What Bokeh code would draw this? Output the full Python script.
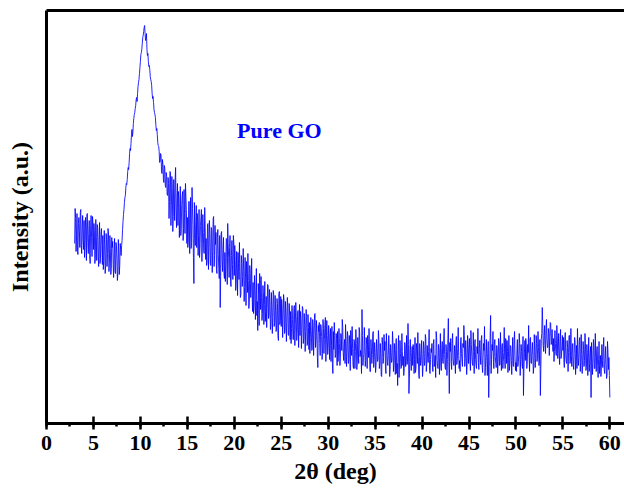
from bokeh.plotting import figure
from bokeh.models import Range1d, SingleIntervalTicker, FixedTicker, LinearAxis, Label
from bokeh.embed import file_html
from bokeh.resources import INLINE

# XRD scan of graphene oxide, recorded on a 0.05 deg grid.
# intensity_a: counts at 3.00, 3.10, ... 60.00 deg (a.u.)
# intensity_b: counts at 3.05, 3.15, ... 59.95 deg (a.u.)
two_theta_start = 3.0
two_theta_step = 0.1
intensity_a = [
    180, 205, 188, 172, 200, 193, 211, 178, 196, 184,   # 3
    203, 176, 195, 209, 181, 190, 168, 198, 186, 207,   # 4
    174, 193, 165, 186, 199, 171, 183, 160, 190, 178,   # 5
    188, 163, 179, 158, 184, 170, 192, 161, 175, 155,   # 6
    176, 159, 170, 152, 181, 164, 150, 171, 158, 174,   # 7
    178, 194, 209, 221, 228, 240, 244, 256, 261, 275,   # 8
    280, 294, 291, 305, 311, 318, 326, 330, 341, 350,   # 9
    362, 371, 380, 388, 396, 390, 385, 374, 370, 357,   # 10
    354, 344, 338, 325, 321, 311, 306, 293, 289, 278,   # 11
    272, 262, 268, 250, 259, 241, 255, 236, 247, 228,   # 12
    240, 222, 251, 218, 235, 207, 230, 244, 213, 226,   # 13
    198, 225, 204, 188, 219, 232, 195, 210, 240, 214,   # 14
    206, 181, 222, 194, 175, 236, 199, 140, 185, 201,   # 15
    176, 203, 188, 166, 198, 214, 180, 191, 170, 196,   # 16
    185, 161, 200, 176, 189, 158, 193, 172, 207, 168,   # 17
    179, 154, 186, 169, 145, 116, 190, 163, 174, 150,   # 18
    171, 158, 184, 200, 166, 176, 142, 168, 159, 188,   # 19
    148, 163, 139, 156, 171, 144, 152, 129, 160, 147,   # 20
    153, 136, 146, 162, 131, 143, 121, 150, 138, 128,   # 21
    141, 117, 134, 125, 108, 93, 129, 150, 114, 126,    # 22
    110, 131, 119, 102, 127, 115, 138, 108, 121, 99,    # 23
    118, 106, 129, 101, 113, 94, 120, 83, 132, 103,     # 24
    97, 114, 105, 123, 92, 110, 101, 117, 88, 108,      # 25
    112, 95, 104, 84, 118, 99, 107, 90, 113, 96,        # 26
    88, 103, 94, 115, 85, 99, 92, 107, 79, 96,          # 27
    101, 86, 93, 74, 98, 89, 110, 83, 91, 56,           # 28
    92, 80, 99, 87, 70, 95, 84, 106, 78, 88,            # 29
    76, 90, 83, 62, 97, 50, 74, 88, 69, 85,             # 30
    92, 73, 80, 66, 85, 104, 71, 78, 60, 83,            # 31
    70, 87, 64, 79, 93, 68, 75, 55, 82, 72,             # 32
    80, 61, 74, 96, 67, 71, 114, 58, 69, 77,            # 33
    63, 79, 88, 66, 73, 52, 76, 69, 92, 64,             # 34
    71, 58, 75, 64, 84, 60, 70, 47, 78, 66,             # 35
    73, 57, 90, 62, 68, 76, 54, 71, 63, 81,             # 36
    59, 68, 74, 50, 38, 88, 61, 70, 56, 72,             # 37
    67, 55, 78, 63, 59, 100, 30, 74, 62, 71,            # 38
    58, 73, 64, 51, 80, 60, 67, 45, 70, 63,             # 39
    69, 56, 76, 61, 85, 59, 66, 72, 53, 64,             # 40
    71, 60, 79, 57, 68, 92, 63, 55, 74, 66,             # 41
    58, 75, 62, 81, 69, 54, 72, 64, 105, 30,            # 42
    72, 61, 80, 66, 58, 70, 78, 59, 75, 68,             # 43
    63, 82, 70, 57, 76, 88, 65, 71, 60, 79,             # 44
    74, 62, 93, 67, 58, 72, 80, 64, 55, 70,             # 45
    61, 75, 68, 84, 57, 66, 73, 48, 70, 63,             # 46
    70, 26, 58, 108, 64, 73, 61, 79, 67, 56,            # 47
    74, 62, 81, 59, 69, 77, 55, 71, 64, 85,             # 48
    60, 72, 66, 53, 78, 63, 70, 58, 83, 67,             # 49
    61, 74, 57, 69, 80, 64, 72, 55, 28, 70,             # 50
    63, 78, 59, 71, 66, 84, 61, 73, 68, 57,             # 51
    72, 65, 80, 69, 76, 62, 28, 84, 116, 78,            # 52
    88, 79, 95, 84, 76, 90, 86, 100, 81, 77,            # 53
    85, 72, 80, 68, 88, 74, 70, 82, 65, 77,             # 54
    73, 64, 84, 69, 60, 76, 71, 88, 62, 68,             # 55
    75, 59, 70, 81, 64, 55, 72, 66, 86, 61,             # 56
    69, 58, 74, 63, 80, 56, 71, 65, 52, 70,             # 57
    26, 67, 60, 78, 55, 66, 73, 58, 64, 50,             # 58
    68, 57, 63, 76, 54, 65, 59, 48, 71, 66,             # 59
    26,                                                  # 60
]
intensity_b = [
    215, 172, 210, 169, 206, 176, 214, 170, 208, 174,   # 3
    166, 206, 163, 210, 170, 203, 160, 208, 167, 200,   # 4
    200, 160, 204, 163, 196, 157, 201, 165, 195, 159,   # 5
    154, 193, 150, 190, 157, 195, 152, 188, 149, 186,   # 6
    182, 146, 185, 150, 178, 143, 184, 149, 180, 168,   # 7
    183, 202, 214, 226, 236, 239, 252, 254, 270, 273,   # 8
    289, 287, 300, 309, 315, 324, 322, 337, 344, 356,   # 9
    369, 374, 386, 392, 398, 383, 390, 368, 362, 358,   # 10
    347, 342, 330, 327, 314, 309, 298, 295, 281, 277,   # 11
    261, 270, 252, 264, 244, 258, 238, 251, 229, 246,   # 12
    205, 252, 198, 247, 192, 244, 203, 256, 196, 240,   # 13
    232, 186, 237, 194, 228, 183, 234, 190, 226, 180,   # 14
    176, 222, 170, 226, 181, 215, 166, 221, 178, 218,   # 15
    210, 168, 214, 175, 206, 162, 209, 171, 216, 164,   # 16
    158, 199, 154, 203, 160, 196, 151, 205, 157, 198,   # 17
    191, 150, 194, 155, 188, 147, 192, 152, 186, 145,   # 18
    142, 185, 139, 180, 146, 188, 137, 183, 144, 181,   # 19
    178, 133, 172, 128, 160, 181, 126, 168, 137, 175,   # 20
    122, 166, 118, 150, 170, 115, 158, 126, 165, 112,   # 21
    110, 148, 104, 155, 122, 140, 98, 138, 147, 103,    # 22
    138, 99, 142, 112, 96, 139, 105, 134, 94, 131,      # 23
    90, 133, 97, 128, 92, 125, 88, 130, 99, 127,        # 24
    124, 86, 129, 90, 122, 82, 126, 89, 120, 84,        # 25
    80, 118, 84, 115, 78, 121, 83, 112, 76, 119,        # 26
    112, 75, 117, 80, 110, 72, 114, 78, 109, 74,        # 27
    70, 106, 73, 104, 68, 109, 76, 103, 66, 98,         # 28
    101, 68, 97, 64, 104, 70, 99, 62, 103, 69,          # 29
    98, 64, 95, 78, 60, 92, 101, 66, 90, 58,            # 30
    62, 95, 58, 90, 73, 96, 63, 84, 99, 57,             # 31
    92, 60, 88, 53, 80, 97, 58, 84, 55, 94,             # 32
    54, 86, 60, 91, 73, 50, 88, 66, 96, 57,             # 33
    86, 55, 79, 95, 52, 84, 60, 90, 56, 81,             # 34
    51, 84, 62, 93, 55, 80, 48, 86, 60, 89,             # 35
    82, 50, 76, 58, 88, 47, 79, 61, 92, 52,             # 36
    80, 49, 85, 60, 77, 46, 83, 55, 90, 58,             # 37
    48, 81, 57, 88, 62, 79, 45, 84, 53, 77,             # 38
    79, 50, 86, 55, 74, 91, 48, 80, 58, 83,             # 39
    47, 82, 58, 89, 52, 78, 61, 94, 50, 75,             # 40
    80, 52, 84, 61, 46, 86, 57, 79, 49, 90,             # 41
    53, 82, 60, 95, 56, 79, 48, 85, 62, 81,             # 42
    85, 54, 90, 59, 78, 50, 87, 63, 96, 55,             # 43
    52, 86, 62, 80, 98, 57, 83, 49, 88, 60,             # 44
    85, 53, 79, 60, 91, 50, 84, 58, 77, 95,             # 45
    54, 83, 59, 88, 51, 80, 97, 56, 84, 48,             # 46
    82, 57, 86, 50, 79, 92, 55, 84, 60, 78,             # 47
    50, 85, 58, 91, 53, 80, 62, 96, 55, 82,             # 48
    83, 51, 88, 60, 77, 49, 86, 57, 92, 53,             # 49
    52, 84, 61, 90, 48, 79, 58, 87, 55, 83,             # 50
    85, 55, 79, 98, 52, 86, 60, 81, 50, 89,             # 51
    56, 88, 62, 92, 58, 84, 55, 90, 100, 72,            # 52
    98, 70, 104, 76, 95, 68, 101, 79, 94, 72,           # 53
    62, 93, 70, 98, 65, 90, 59, 94, 68, 88,             # 54
    86, 56, 91, 62, 83, 52, 88, 60, 95, 57,             # 55
    80, 54, 86, 49, 78, 95, 58, 83, 52, 89,             # 56
    50, 82, 57, 90, 53, 79, 48, 86, 60, 77,             # 57
    81, 49, 84, 55, 90, 52, 77, 46, 82, 58,             # 58
    47, 79, 56, 86, 50, 77, 45, 82, 54, 48,             # 59
]

# merge the two interleaved sample sets into one scan
two_theta = []
intensity = []
for i, val in enumerate(intensity_a):
    two_theta.append(round(two_theta_start + i * two_theta_step, 2))
    intensity.append(val)
    if i < len(intensity_b):
        two_theta.append(round(two_theta_start + i * two_theta_step + two_theta_step / 2, 2))
        intensity.append(intensity_b[i])

sample_label = "Pure GO"
x_title = "2θ (deg)"
y_title = "Intensity (a.u.)"

SERIF = "Liberation Serif"
BLUE = "#0000FF"

p = figure(
    width=624, height=488,
    output_backend="svg", toolbar_location=None,
    x_range=Range1d(0, 61.56), y_range=Range1d(0, 413),
    min_border_left=46, min_border_right=0,
    min_border_top=10, min_border_bottom=65,
)
p.outline_line_color = None
p.grid.visible = False
p.background_fill_color = "white"
p.border_fill_color = "white"

p.line(two_theta, intensity, line_color=BLUE, line_width=1, line_alpha=0.85)

# bottom axis: majors every 5 deg (in and out), one minor between
xa = p.xaxis[0]
xa.ticker = SingleIntervalTicker(interval=5, num_minor_ticks=2)
xa.axis_line_width = 3
xa.axis_line_color = "black"
xa.major_tick_line_width = 2.5
xa.major_tick_in = 7
xa.major_tick_out = 6
xa.minor_tick_line_width = 2.5
xa.minor_tick_in = 0
xa.minor_tick_out = 3
xa.major_label_text_font = SERIF
xa.major_label_text_font_style = "bold"
xa.major_label_text_font_size = "22px"
xa.major_label_text_color = "black"
xa.major_label_standoff = 6
xa.axis_label = x_title
xa.axis_label_text_font = SERIF
xa.axis_label_text_font_style = "bold"
xa.axis_label_text_font_size = "24px"
xa.axis_label_text_color = "black"
xa.axis_label_standoff = 5

# left axis: line and title only
ya = p.yaxis[0]
ya.ticker = FixedTicker(ticks=[])
ya.axis_line_width = 3
ya.axis_line_color = "black"
ya.major_tick_line_color = None
ya.minor_tick_line_color = None
ya.major_label_text_font_size = "0px"
ya.axis_label = y_title
ya.axis_label_text_font = SERIF
ya.axis_label_text_font_style = "bold"
ya.axis_label_text_font_size = "24px"
ya.axis_label_text_color = "black"
ya.axis_label_standoff = 14

# top frame line
top = LinearAxis(ticker=FixedTicker(ticks=[]), axis_line_width=3, axis_line_color="black",
                 major_tick_line_color=None, minor_tick_line_color=None,
                 major_label_text_font_size="0px")
p.add_layout(top, "above")

p.add_layout(Label(x=20.3, y=293, text=sample_label, text_font=SERIF,
                   text_font_style="bold", text_font_size="22px",
                   text_color=BLUE, text_baseline="alphabetic"))

open("out.html", "w").write(file_html(p, INLINE))
